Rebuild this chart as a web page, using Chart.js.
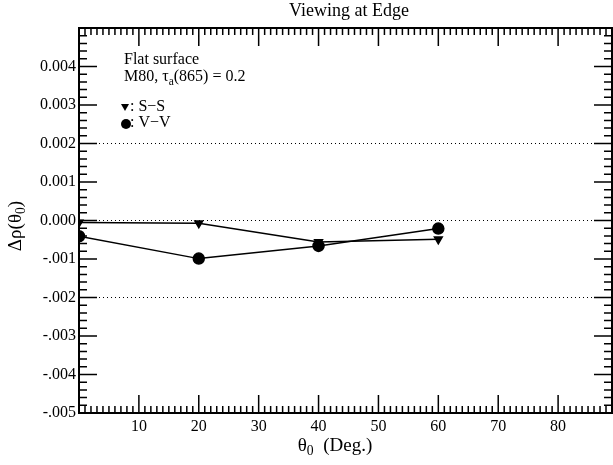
<!DOCTYPE html>
<html>
<head>
<meta charset="utf-8">
<script src="https://cdn.jsdelivr.net/npm/chart.js@4/dist/chart.umd.min.js"></script>
<style>
  html, body { margin: 0; padding: 0; background: #fff; }
  #wrap { width: 613px; height: 465px; }
</style>
</head>
<body>
<div id="wrap"><canvas id="myChart" width="613" height="465"></canvas></div>
<script>
// angles (deg)
var angles = [0, 20, 40, 60];
// S-S series
var ssValues = [-0.00005, -0.00007, -0.00056, -0.00049];
// V-V series
var vvValues = [-0.00041, -0.00099, -0.00066, -0.00021];
var xTickLabels = [10, 20, 30, 40, 50, 60, 70, 80];
var yDotted = [0.002, 0, -0.002];

var serif = "'Liberation Serif', 'Times New Roman', serif";

function pts(xs, ys) {
    var out = [];
    for (var i = 0; i < xs.length; i++) out.push({ x: xs[i], y: ys[i] });
    return out;
}

function yLabel(v) {
    var n = Math.round(v * 1000);
    if (n == 5) return '';
    if (n == 0) return '0.000';
    if (n > 0) return '0.00' + n;
    return '-.00' + (-n);
}

// text with a subscript part: parts = [[text, isSub], ...]
function drawParts(ctx, parts, x, y, size, align) {
    var total = 0;
    parts.forEach(function (p) {
        ctx.font = (p[1] ? size * 0.72 : size) + 'px ' + serif;
        total += ctx.measureText(p[0]).width;
    });
    var cx = align == 'center' ? x - total / 2 : x;
    parts.forEach(function (p) {
        ctx.font = (p[1] ? size * 0.72 : size) + 'px ' + serif;
        ctx.fillText(p[0], cx, p[1] ? y + size * 0.3 : y);
        cx += ctx.measureText(p[0]).width;
    });
}

var framePlugin = {
    id: 'frame',
    afterDraw: function (chart) {
        var ctx = chart.ctx, a = chart.chartArea;
        var xs = chart.scales.x, ys = chart.scales.y;
        ctx.save();
        ctx.strokeStyle = '#000';
        ctx.lineWidth = 1.5;
        ctx.beginPath();
        // x ticks top and bottom
        for (var d = 1; d < 90; d++) {
            var px = xs.getPixelForValue(d);
            if (px > a.right) break;
            var len = d % 10 == 0 ? 18 : 7;
            ctx.moveTo(px, a.bottom); ctx.lineTo(px, a.bottom - len);
            ctx.moveTo(px, a.top); ctx.lineTo(px, a.top + len);
        }
        // y ticks left and right
        for (var k = -25; k <= 25; k++) {
            var v = k * 0.0002;
            var py = ys.getPixelForValue(v);
            var len2 = k % 5 == 0 ? 18 : 8;
            ctx.moveTo(a.left, py); ctx.lineTo(a.left + len2, py);
            ctx.moveTo(a.right, py); ctx.lineTo(a.right - len2, py);
        }
        ctx.stroke();
        ctx.lineWidth = 2;
        ctx.strokeRect(a.left, a.top, a.right - a.left, a.bottom - a.top);

        ctx.fillStyle = '#000';
        ctx.textBaseline = 'middle';
        // title
        ctx.font = '18px ' + serif;
        ctx.textAlign = 'center';
        ctx.fillText('Viewing at Edge', 349, 11);
        ctx.textAlign = 'left';
        // annotation
        ctx.font = '16px ' + serif;
        ctx.fillText('Flat surface', 124, 60);
        drawParts(ctx, [['M80, \u03c4', false], ['a', true], ['(865) = 0.2', false]], 124, 77, 16, 'left');
        ctx.beginPath();
        ctx.moveTo(121, 104); ctx.lineTo(129, 104); ctx.lineTo(125, 111); ctx.closePath();
        ctx.fill();
        ctx.font = '16px ' + serif;
        ctx.fillText(': S\u2212S', 130, 107);
        ctx.beginPath();
        ctx.arc(126, 124, 5, 0, Math.PI * 2);
        ctx.fill();
        ctx.fillText(': V\u2212V', 130, 123);
        // axis titles
        drawParts(ctx, [['\u03b8', false], ['0', true], ['  (Deg.)', false]], 335, 446, 19, 'center');
        ctx.translate(16, 226);
        ctx.rotate(-Math.PI / 2);
        drawParts(ctx, [['\u0394\u03c1(\u03b8', false], ['0', true], [')', false]], 0, 0, 19, 'center');
        ctx.restore();
    }
};

var ctx = document.getElementById('myChart').getContext('2d');
var chart = new Chart(ctx, {
    type: 'scatter',
    data: {
        datasets: [{
            label: 'S-S',
            data: pts(angles, ssValues),
            showLine: true,
            borderColor: '#000',
            backgroundColor: '#000',
            borderWidth: 1.5,
            pointStyle: 'triangle',
            rotation: 180,
            pointRadius: 4.5,
            pointHoverRadius: 4.5
        }, {
            label: 'V-V',
            data: pts(angles, vvValues),
            showLine: true,
            borderColor: '#000',
            backgroundColor: '#000',
            borderWidth: 1.5,
            pointStyle: 'circle',
            pointRadius: 5.5,
            pointHoverRadius: 5.5
        }]
    },
    options: {
        responsive: false,
        animation: false,
        layout: { autoPadding: false, padding: { top: 28, right: 1, left: 0, bottom: 0 } },
        plugins: { legend: { display: false }, tooltip: { enabled: false } },
        scales: {
            x: {
                type: 'linear',
                min: 0,
                max: 89,
                afterFit: function (s) { s.height = 52; },
                afterBuildTicks: function (s) {
                    s.ticks = xTickLabels.map(function (v) { return { value: v }; });
                },
                ticks: {
                    color: '#000',
                    padding: 4,
                    font: { family: serif, size: 16 }
                },
                grid: { display: false, drawTicks: false },
                border: { display: false }
            },
            y: {
                min: -0.005,
                max: 0.005,
                afterFit: function (s) { s.width = 79; },
                ticks: {
                    stepSize: 0.001,
                    color: '#000',
                    padding: 3,
                    font: { family: serif, size: 16 },
                    callback: function (v) { return yLabel(v); }
                },
                grid: {
                    drawTicks: false,
                    lineWidth: 1,
                    color: function (c) {
                        var v = Math.round(c.tick.value * 1000) / 1000;
                        return yDotted.indexOf(v) >= 0 ? '#000' : 'rgba(0,0,0,0)';
                    }
                },
                border: { display: false, dash: [1, 3] }
            }
        }
    },
    plugins: [framePlugin]
});
</script>
</body>
</html>
